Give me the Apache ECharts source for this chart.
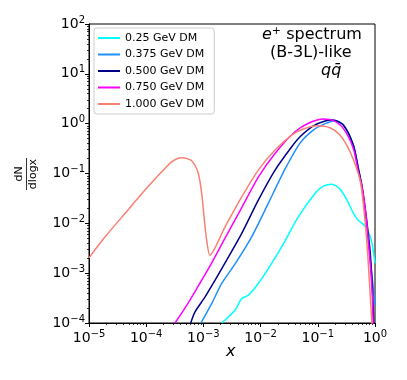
<!DOCTYPE html>
<html>
<head>
<meta charset="utf-8">
<script src="https://cdn.jsdelivr.net/npm/echarts@6/dist/echarts.min.js"></script>
<style>
html,body{margin:0;padding:0;background:#fff;}
#chart{width:407px;height:380px;}
</style>
</head>
<body>
<div id="chart"></div>
<script>
const seriesNames = ['0.25 GeV DM', '0.375 GeV DM', '0.500 GeV DM', '0.750 GeV DM', '1.000 GeV DM'];
const seriesColors = ['#00ffff', '#1e90ff', '#00008b', '#ff00ff', '#fa8072'];

const x025 = [2.09e-3, 3.56e-3, 4.68e-3, 6.10e-3, 9.12e-3, 0.0156, 0.0267, 0.0456, 0.0893, 0.125, 0.175, 0.244, 0.324, 0.418, 0.505, 0.593, 0.716, 0.875, 1.0];
const y025 = [1.0e-4, 1.81e-4, 3.10e-4, 3.61e-4, 6.21e-4, 1.57e-3, 4.40e-3, 0.0135, 0.0398, 0.0558, 0.0612, 0.0486, 0.0292, 0.016, 0.0116, 0.0101, 7.9e-3, 4.26e-3, 1.57e-3];

const x0375 = [9.08e-4, 1.40e-3, 2.09e-3, 3.56e-3, 6.98e-3, 0.0136, 0.0267, 0.0489, 0.0834, 0.134, 0.2, 0.279, 0.418, 0.511, 0.593, 0.697, 0.818, 0.923, 1.0];
const y0375 = [1.0e-4, 2.47e-4, 6.21e-4, 1.52e-3, 5.36e-3, 0.0251, 0.122, 0.408, 0.743, 1.0, 1.15, 0.959, 0.372, 0.128, 0.0509, 0.0116, 2.0e-3, 5.74e-4, 2.28e-4];

const x0500 = [6.0e-4, 7.13e-4, 1.07e-3, 1.60e-3, 2.55e-3, 4.68e-3, 9.12e-3, 0.0179, 0.035, 0.0489, 0.0824, 0.134, 0.187, 0.279, 0.418, 0.511, 0.593, 0.697, 0.818, 0.904, 0.962];
const y0500 = [1.0e-4, 1.67e-4, 3.34e-4, 7.23e-4, 1.82e-3, 6.27e-3, 0.0292, 0.117, 0.344, 0.546, 0.895, 1.13, 1.18, 0.937, 0.372, 0.127, 0.0558, 0.0146, 2.9e-3, 4.56e-4, 7.2e-5];

const x0750 = [3.18e-4, 4.76e-4, 7.73e-4, 1.30e-3, 2.39e-3, 4.68e-3, 9.12e-3, 0.0179, 0.0399, 0.0701, 0.125, 0.187, 0.279, 0.418, 0.511, 0.585, 0.697, 0.802, 0.887, 0.933];
const y0750 = [1.0e-4, 1.98e-4, 5.0e-4, 1.38e-3, 5.05e-3, 0.0207, 0.0847, 0.253, 0.687, 1.03, 1.24, 1.15, 0.805, 0.319, 0.108, 0.0585, 0.0146, 2.3e-3, 4.56e-4, 7.2e-5];

const x1000 = [1e-5, 1.91e-5, 4.26e-5, 9.53e-5, 1.87e-4, 2.79e-4, 4.18e-4, 6.24e-4, 8.15e-4, 9.33e-4, 1.04e-3, 1.14e-3, 1.30e-3, 2.39e-3, 4.68e-3, 9.12e-3, 0.0179, 0.035, 0.0558, 0.0957, 0.163, 0.244, 0.366, 0.547, 0.668, 0.764, 0.875, 0.923];
const y1000 = [2.03e-3, 5.36e-3, 0.0158, 0.0464, 0.108, 0.172, 0.207, 0.180, 0.100, 0.0398, 0.0116, 4.6e-3, 2.3e-3, 8.51e-3, 0.034, 0.117, 0.295, 0.59, 0.78, 0.908, 0.828, 0.59, 0.273, 0.0736, 0.0116, 1.57e-3, 1.14e-4, 4.5e-5];

const xTickExponents = [-5, -4, -3, -2, -1, 0];
const yTickExponents = [-4, -3, -2, -1, 0, 1, 2];

const xList = [x025, x0375, x0500, x0750, x1000];
const yList = [y025, y0375, y0500, y0750, y1000];

const FONT = 'DejaVu Sans';

function expLabel(v) {
  const e = Math.round(Math.log10(v));
  const s = e < 0 ? '\u2212' + (-e) : String(e);
  return '{b|10}{s|' + s + '}';
}
const richTick = {
  b: { fontSize: 14, fontFamily: FONT, color: '#000', lineHeight: 18 },
  s: { fontSize: 10, fontFamily: FONT, color: '#000', lineHeight: 10, verticalAlign: 'top' }
};

const series = seriesNames.map((name, i) => ({
  name: name,
  type: 'line',
  data: xList[i].map((x, j) => [x, yList[i][j]]),
  symbol: 'none',
  smooth: 0.25,
  clip: true,
  lineStyle: { color: seriesColors[i], width: 1.5 },
  itemStyle: { color: seriesColors[i] },
  z: 3
}));

const chart = echarts.init(document.getElementById('chart'), null, { renderer: 'canvas' });
chart.setOption({
  animation: false,
  backgroundColor: '#fff',
  grid: { left: 89, right: 32, top: 24, bottom: 57, show: true, borderColor: '#000', borderWidth: 1, backgroundColor: 'transparent' },
  xAxis: {
    type: 'log', logBase: 10, min: 1e-5, max: 1, splitNumber: 5,
    axisLine: { show: true, lineStyle: { color: '#000', width: 1 } },
    axisTick: { show: true, inside: false, length: 4, lineStyle: { color: '#000' } },
    minorTick: { show: true, splitNumber: 9, length: 2, lineStyle: { color: '#000', width: 0.8 } },
    splitLine: { show: false },
    axisLabel: { margin: 6, formatter: expLabel, rich: richTick, showMinLabel: true, showMaxLabel: true }
  },
  yAxis: {
    type: 'log', logBase: 10, min: 1e-4, max: 100, splitNumber: 6,
    axisLine: { show: true, lineStyle: { color: '#000', width: 1 } },
    axisTick: { show: true, inside: false, length: 4, lineStyle: { color: '#000' } },
    minorTick: { show: true, splitNumber: 9, length: 2, lineStyle: { color: '#000', width: 0.8 } },
    splitLine: { show: false },
    axisLabel: { margin: 4, formatter: expLabel, rich: richTick, showMinLabel: true, showMaxLabel: true }
  },
  legend: {
    data: seriesNames.map(n => ({ name: n, icon: 'rect' })),
    orient: 'vertical',
    left: 94, top: 28,
    padding: [3, 10, 3, 4],
    itemWidth: 22, itemHeight: 2, itemGap: 2.5, itemTextGap: 12,
    itemStyle: { borderWidth: 0 },
    backgroundColor: 'rgba(255,255,255,0.85)',
    borderColor: '#cccccc', borderWidth: 1, borderRadius: 3,
    textStyle: { fontSize: 11, fontFamily: FONT, color: '#000', lineHeight: 14 }
  },
  graphic: [
    { type: 'text', left: 262, top: 26, style: { text: '{e|e}{p|+}{n| spectrum}', rich: {
        e: { fontSize: 16, fontFamily: FONT, fontStyle: 'italic', fill: '#000', lineHeight: 18 },
        p: { fontSize: 11, fontFamily: FONT, fill: '#000', lineHeight: 11, verticalAlign: 'top' },
        n: { fontSize: 16, fontFamily: FONT, fill: '#000', lineHeight: 18 } } } },
    { type: 'text', left: 270, top: 45, style: { text: '(B-3L)-like', fontSize: 16, fontFamily: FONT, fill: '#000' } },
    { type: 'text', left: 321, top: 63, style: { text: 'qq\u0304', fontSize: 16, fontFamily: FONT, fontStyle: 'italic', fill: '#000' } },
    { type: 'text', left: 226, top: 344, style: { text: 'x', fontSize: 16, fontFamily: FONT, fontStyle: 'italic', fill: '#000' } },
    { type: 'group', x: 26.5, y: 174, rotation: Math.PI / 2, children: [
        { type: 'text', x: 0, y: -1.5, style: { text: 'dN', fontSize: 11, fontFamily: FONT, fill: '#000', align: 'center', verticalAlign: 'bottom' } },
        { type: 'line', shape: { x1: -16, y1: 0, x2: 16, y2: 0 }, style: { stroke: '#000', lineWidth: 0.8 } },
        { type: 'text', x: 0, y: 1.5, style: { text: 'dlogx', fontSize: 11, fontFamily: FONT, fill: '#000', align: 'center', verticalAlign: 'top' } }
    ] }
  ],
  series: series
});
</script>
</body>
</html>
